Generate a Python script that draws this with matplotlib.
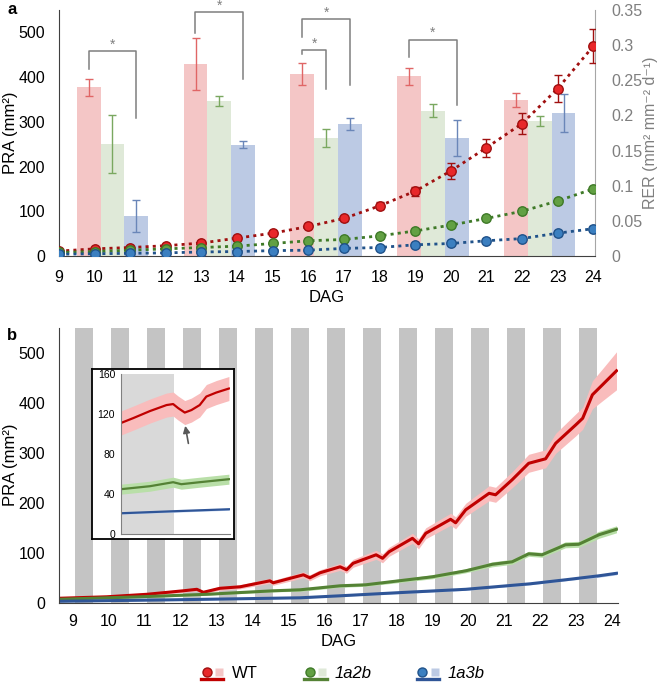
import numpy as np
import matplotlib.pyplot as plt
from matplotlib.lines import Line2D

plt.rcParams['font.family'] = ['Liberation Sans', 'DejaVu Sans']

W, H = 661, 683

# ---- panel a data ----
days = np.arange(9, 25)
wt_pra = [11, 16, 19, 23, 29, 40, 51, 66, 84, 112, 145, 190, 242, 296, 374, 469]
wt_pra_err = [1, 1, 2, 2, 3, 3, 4, 4, 5, 8, 10, 17, 20, 24, 30, 38]
a2b_pra = [8, 10, 13, 16, 19, 22, 28, 34, 37, 45, 56, 69, 84, 100, 123, 150]
a2b_pra_err = [1, 1, 1, 1, 2, 2, 2, 2, 3, 3, 3, 4, 4, 4, 4, 5]
a3b_pra = [4, 5, 6, 7, 9, 10, 12, 13, 17, 19, 25, 28, 34, 39, 51, 61]
a3b_pra_err = [1, 1, 1, 1, 1, 1, 1, 1, 2, 2, 3, 3, 3, 4, 6, 7]

bar_centers = [10.5, 13.5, 16.5, 19.5, 22.5]
wt_rer = [0.240, 0.273, 0.259, 0.256, 0.222]
wt_rer_err = [0.012, 0.037, 0.015, 0.012, 0.010]
a2b_rer = [0.159, 0.220, 0.168, 0.207, 0.192]
a2b_rer_err = [0.041, 0.007, 0.013, 0.009, 0.007]
a3b_rer = [0.057, 0.158, 0.188, 0.168, 0.204]
a3b_rer_err = [0.023, 0.005, 0.0085, 0.026, 0.027]

# significance brackets: (x_left, x_right, top, left_end, right_end) in RER units
brackets = [
    (9.83, 11.17, 0.292, 0.266, 0.197),
    (12.83, 14.17, 0.347, 0.317, 0.252),
    (15.83, 16.50, 0.293, 0.287, 0.237),
    (15.83, 17.17, 0.337, 0.312, 0.243),
    (18.83, 20.17, 0.308, 0.283, 0.215),
]

# ---- panel b data ----
wt_t = [8.61, 9.95, 11.07, 12.08, 12.46, 12.64, 13.1, 13.66, 14.49, 14.58, 15.42, 15.6,
        15.88, 16.44, 16.62, 16.8, 17.44, 17.62, 17.8, 18.45, 18.62, 18.82, 19.51, 19.65,
        19.93, 20.58, 20.76, 21.22, 21.68, 22.15, 22.43, 22.99, 23.18, 23.45, 23.73, 24.12]
wt_area = [10, 13, 18, 25, 28, 22, 30, 33, 45, 41, 57, 51,
           61, 73, 67, 80, 97, 90, 103, 130, 119, 140, 168, 161,
           187, 220, 217, 247, 280, 289, 320, 357, 370, 417, 437, 465]
wt_sd = [2, 2, 3, 3, 3, 3, 4, 4, 5, 5, 6, 6,
         6, 7, 7, 8, 9, 9, 9, 10, 10, 11, 12, 12,
         13, 15, 15, 16, 18, 18, 20, 22, 22, 28, 32, 38]
a2b_t = [8.61, 10.88, 12.73, 14.58, 15.33, 16.44, 17.15, 19.0, 19.93, 20.67, 21.22, 21.68,
         22.05, 22.7, 23.07, 23.63, 24.12]
a2b_area = [8, 13, 18, 25, 27, 35, 37, 53, 65, 78, 83, 99, 97, 117, 118, 137, 148]
a2b_sd = [1, 2, 2, 2, 3, 3, 3, 4, 4, 5, 5, 5, 5, 6, 6, 7, 7]
a3b_t = [8.61, 11.8, 15.33, 16.44, 18.0, 19.93, 21.72, 22.7, 23.63, 24.12]
a3b_area = [4, 7, 11, 15, 21, 28, 39, 47, 55, 60]
a3b_sd = [1, 1, 1, 1, 2, 2, 2, 2, 3, 3]
night_start = np.arange(9, 24) + 0.08

# inset (hours)
ins_wt_t = [0, 2.33, 5.4, 8.47, 9.69, 10.61, 11.84, 13.07, 14.6, 15.83, 17.67, 20]
ins_wt = [111, 116, 123, 129, 130, 126, 121.5, 124, 129, 137.5, 141.5, 145.5]
ins_a2b_t = [0, 5.4, 9.69, 11.2, 14.6, 20]
ins_a2b = [45, 48, 52, 50, 52, 55]
ins_a3b_t = [0, 9.69, 20]
ins_a3b = [21, 23, 25]

RED, GREEN, BLUE = '#c00000', '#548235', '#2f5597'
colors = {
    'WT': dict(dot='#e8282a', edge='#a01010', bar='#f4c6c6', err='#e06666', line=RED, band='#f9bcbc'),
    '1a2b': dict(dot='#62a043', edge='#3f7a28', bar='#dfe9d8', err='#7aa860', line=GREEN, band='#b9dfa8'),
    '1a3b': dict(dot='#3b7fc0', edge='#20528a', bar='#bccae4', err='#6a86b8', line=BLUE, band='#bcd0ee'),
}


def fig_rect(left, top, right, bottom):
    return [left / W, 1 - bottom / H, (right - left) / W, (bottom - top) / H]


fig = plt.figure(figsize=(W / 100, H / 100), dpi=100)

# ================= panel a =================
ax2 = fig.add_axes(fig_rect(59, 10, 595, 256))
ax = ax2.twinx()
ax.yaxis.tick_left()
ax2.yaxis.tick_right()
ax.set_zorder(ax2.get_zorder() + 1)
ax.patch.set_visible(False)

bw = 2 / 3
for k, (name, vals, errs) in enumerate([('WT', wt_rer, wt_rer_err),
                                        ('1a2b', a2b_rer, a2b_rer_err),
                                        ('1a3b', a3b_rer, a3b_rer_err)]):
    c = colors[name]
    xs = np.array(bar_centers) + (k - 1) * bw
    ax2.bar(xs, vals, width=bw, color=c['bar'], zorder=1)
    ax2.errorbar(xs, vals, yerr=errs, fmt='none', ecolor=c['err'], elinewidth=1,
                 capsize=3, capthick=1, zorder=2)

for xl, xr, top, le, re in brackets:
    ax2.plot([xl, xl, xr, xr], [le, top, top, re], color='#7f7f7f', lw=1.1, zorder=3,
             clip_on=False)
    ax2.text((xl + xr) / 2, top - 0.001, '*', ha='center', va='bottom',
             fontsize=10, color='#7f7f7f')

for name, vals, errs in [('WT', wt_pra, wt_pra_err), ('1a2b', a2b_pra, a2b_pra_err),
                         ('1a3b', a3b_pra, a3b_pra_err)]:
    c = colors[name]
    ax.plot(days, vals, ls=(0, (1.1, 1.5)), color=c['edge'], lw=2, zorder=3)
    ax.errorbar(days, vals, yerr=errs, fmt='o', ms=6.8, mfc=c['dot'], mec=c['edge'],
                mew=1, ecolor=c['edge'], elinewidth=1, capsize=3, zorder=4)

ax.set_xlim(9, 24.05)
ax.set_ylim(0, 550)
ax.set_yticks(range(0, 501, 100))
ax2.set_ylim(0, 0.35)
ax2.set_yticks(np.arange(0, 0.351, 0.05))
ax2.set_yticklabels(['0', '0.05', '0.1', '0.15', '0.2', '0.25', '0.3', '0.35'])
ax.set_xticks(days)

for a in (ax, ax2):
    a.spines['top'].set_visible(False)
ax.spines['right'].set_visible(False)
ax2.spines['left'].set_visible(False)
ax.spines['left'].set_color('#404040')
ax2.spines['right'].set_color('#a6a6a6')
ax2.spines['bottom'].set_color('#404040')
ax.spines['bottom'].set_visible(False)
ax.tick_params(axis='y', length=0, pad=10, labelsize=11.5)
ax2.tick_params(axis='y', length=0, pad=12, labelsize=11.5, labelcolor='#7f7f7f')
ax2.tick_params(axis='x', length=0, pad=10, labelsize=11.5)
ax.tick_params(axis='x', length=0, labelbottom=False)
ax2.set_xlabel('DAG', fontsize=12, labelpad=4)
# axis titles placed as figure text
fig.text(11 / W, 1 - 133 / H, 'PRA (mm²)', fontsize=12, rotation=90,
         ha='center', va='center')
fig.text(651 / W, 1 - 133 / H, 'RER (mm² mm⁻² d⁻¹)', fontsize=11.5, rotation=90,
         ha='center', va='center', color='#7f7f7f')
fig.text(7 / W, 1 - 10 / H, 'a', fontsize=12, fontweight='bold', va='center')

# ================= panel b =================
bx = fig.add_axes(fig_rect(59, 328.3, 618.3, 603.3))
for s in night_start:
    bx.axvspan(s, s + 0.5, color='#c4c4c4', lw=0, zorder=0)
for name, t, v, sd in [('WT', wt_t, wt_area, wt_sd), ('1a2b', a2b_t, a2b_area, a2b_sd),
                       ('1a3b', a3b_t, a3b_area, a3b_sd)]:
    c = colors[name]
    v, sd = np.array(v), np.array(sd)
    bx.fill_between(t, v - sd, v + sd, color=c['band'], lw=0, zorder=1)
    bx.plot(t, v, color=c['line'], lw=2.2, zorder=2)

bx.set_xlim(8.63, 24.17)
bx.set_ylim(0, 550)
bx.set_yticks(range(0, 501, 100))
bx.set_xticks(days)
for s in ('top', 'right'):
    bx.spines[s].set_visible(False)
bx.spines['left'].set_color('#404040')
bx.spines['bottom'].set_color('#404040')
bx.tick_params(length=0, labelsize=11.5)
bx.tick_params(axis='y', pad=10)
bx.tick_params(axis='x', pad=8)
bx.set_xlabel('DAG', fontsize=12, labelpad=3)
fig.text(11 / W, 1 - 465 / H, 'PRA (mm²)', fontsize=12, rotation=90,
         ha='center', va='center')
fig.text(7 / W, 1 - 336 / H, 'b', fontsize=12, fontweight='bold', va='center')

# inset
frame = fig.add_axes(fig_rect(91.7, 369, 234.3, 539))
frame.set_xticks([])
frame.set_yticks([])
frame.set_facecolor('white')
for sp in frame.spines.values():
    sp.set_color('black')
    sp.set_linewidth(1.3)

ix = fig.add_axes(fig_rect(120.7, 374, 230, 534.3))
ix.axvspan(0, 9.8, color='#d9d9d9', lw=0, zorder=0)
for name, t, v, sd in [('WT', ins_wt_t, ins_wt, 12), ('1a2b', ins_a2b_t, ins_a2b, 5),
                       ('1a3b', ins_a3b_t, ins_a3b, 1)]:
    c = colors[name]
    v = np.array(v)
    ix.fill_between(t, v - sd, v + sd, color=c['band'], lw=0, zorder=1)
    ix.plot(t, v, color=c['line'], lw=1.6, zorder=2)
ix.annotate('', xy=(11.84, 111), xytext=(12.6, 88),
            arrowprops=dict(arrowstyle='-|>', color='#595959', lw=1.2,
                            mutation_scale=10))
ix.set_xlim(0, 20.2)
ix.set_ylim(0, 160)
ix.set_yticks(range(0, 161, 40))
ix.set_xticks([])
ix.patch.set_visible(False)
for s in ('top', 'right'):
    ix.spines[s].set_visible(False)
ix.spines['left'].set_color('#808080')
ix.spines['bottom'].set_color('#808080')
ix.tick_params(length=0, labelsize=7.5, pad=4)

# ================= legend =================
legend_items = [('WT', 201, 'normal'), ('1a2b', 304, 'italic'), ('1a3b', 416.7, 'italic')]
for name, x0, style in legend_items:
    c = colors[name]
    yd = 1 - 671.5 / H
    yl = 1 - 679 / H
    fig.add_artist(Line2D([(x0 + 5.5) / W], [yd], marker='o', ms=6.5, mfc=c['dot'],
                          mec=c['edge'], mew=1, transform=fig.transFigure))
    fig.add_artist(Line2D([(x0 + 18) / W], [yd], marker='s', ms=6, mfc=c['bar'],
                          mec='none', transform=fig.transFigure))
    fig.add_artist(Line2D([x0 / W, (x0 + 22.5) / W], [yl, yl], color=c['line'], lw=2.4,
                          transform=fig.transFigure))
    fig.text((x0 + 30.5) / W, 1 - 673 / H, name, fontsize=12, style=style,
             va='center', ha='left')

fig.savefig('out.png', dpi=100)
